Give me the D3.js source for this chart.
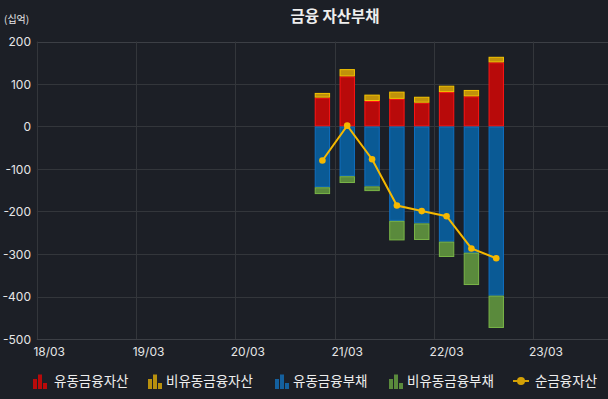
<!DOCTYPE html>
<html>
<head>
<meta charset="utf-8">
<script src="https://cdn.jsdelivr.net/npm/d3@7"></script>
<style>
  body { margin: 0; background: #1c1f26; }
  svg { display: block; font-family: "Noto Sans CJK KR", "Noto Sans", sans-serif; }
</style>
</head>
<body>
<svg id="chart"></svg>
<script>
// quarters on the x axis (category axis, labels every 4th)
const quarters = ['18/03','18/06','18/09','18/12','19/03','19/06','19/09','19/12',
    '20/03','20/06','20/09','20/12','21/03','21/06','21/09','21/12',
    '22/03','22/06','22/09','22/12','23/03','23/06','23/09'];
const dataQuarters = ['20/12','21/03','21/06','21/09','21/12','22/03','22/06','22/09'];
const currentAssets = [68, 118, 60, 65, 56, 81, 71, 151];
const nonCurrentAssets = [11, 17, 15, 17, 14, 15, 15, 13];
const currentLiab = [-143, -117, -141, -222, -228, -271, -297, -398];
const nonCurrentLiab = [-16, -16, -11, -46, -39, -36, -76, -76];
const netAssets = [-80, 2, -77, -186, -199, -211, -287, -310];
const yTicks = [200, 100, 0, -100, -200, -300, -400, -500];
const xLabels = ['18/03','19/03','20/03','21/03','22/03','23/03'];

const width = 608, height = 399;
const margin = {left: 36.8, right: 0, top: 41.5, bottom: 60};

const series = [
    {name: '유동금융자산', values: currentAssets, fill: '#b80a0a', stroke: '#ff1414'},
    {name: '비유동금융자산', values: nonCurrentAssets, fill: '#c0920a', stroke: '#f5c400'},
    {name: '유동금융부채', values: currentLiab, fill: '#0a5a95', stroke: '#0f70c2'},
    {name: '비유동금융부채', values: nonCurrentLiab, fill: '#5a8a3c', stroke: '#7ab648'}
];

const svg = d3.select('#chart').attr('width', width).attr('height', height);

const x = d3.scaleBand().domain(quarters)
    .range([margin.left, width - margin.right]).paddingInner(0).paddingOuter(0);
const y = d3.scaleLinear().domain([-500, 200]).range([339, margin.top]);

// grid
const grid = svg.append('g');
grid.selectAll('line.h').data(yTicks).join('line')
    .attr('x1', margin.left).attr('x2', width)
    .attr('y1', d => Math.round(y(d)) + 0.5).attr('y2', d => Math.round(y(d)) + 0.5)
    .attr('stroke', d => (d === 200 || d === -500) ? '#3c3f45' : '#33363b');
grid.selectAll('line.v').data(xLabels).join('line')
    .attr('x1', d => Math.round(x(d)) + 0.5).attr('x2', d => Math.round(x(d)) + 0.5)
    .attr('y1', y(200)).attr('y2', y(-500))
    .attr('stroke', '#33363b');

// y axis labels
svg.append('g').selectAll('text').data(yTicks).join('text')
    .attr('x', 31).attr('y', d => y(d) + 4.5)
    .attr('text-anchor', 'end').attr('fill', '#e6e6e6')
    .attr('font-size', 12).attr('font-family', 'Inter, sans-serif')
    .text(d => d);

// x axis labels
svg.append('g').selectAll('text').data(xLabels).join('text')
    .attr('x', d => x(d) + x.bandwidth() / 2).attr('y', 356)
    .attr('text-anchor', 'middle').attr('fill', '#e6e6e6')
    .attr('font-size', 12).attr('font-family', 'Inter, sans-serif')
    .text(d => d);

// stacked bars: positives stack up, negatives stack down
const barW = 15.4;
const rows = dataQuarters.map((q, i) => ({q, i}));
let posBase = dataQuarters.map(() => 0), negBase = dataQuarters.map(() => 0);
series.forEach(s => {
    const segs = rows.map(r => {
        const v = s.values[r.i];
        let y0, y1;
        if (v >= 0) { y0 = posBase[r.i]; y1 = y0 + v; posBase[r.i] = y1; }
        else { y0 = negBase[r.i]; y1 = y0 + v; negBase[r.i] = y1; }
        return {q: r.q, y0, y1};
    });
    svg.append('g').selectAll('rect').data(segs).join('rect')
        .attr('x', d => x(d.q) + (x.bandwidth() - barW) / 2 + 0.5)
        .attr('width', barW - 1)
        .attr('y', d => Math.min(y(d.y0), y(d.y1)) + 0.5)
        .attr('height', d => Math.max(0, Math.abs(y(d.y0) - y(d.y1)) - 1))
        .attr('fill', s.fill).attr('stroke', s.stroke).attr('stroke-width', 1);
});

// net line
const line = d3.line().x((d, i) => x(dataQuarters[i]) + x.bandwidth() / 2).y(d => y(d));
svg.append('path').datum(netAssets)
    .attr('d', line).attr('fill', 'none')
    .attr('stroke', '#f5b800').attr('stroke-width', 2);
svg.append('g').selectAll('circle').data(netAssets).join('circle')
    .attr('cx', (d, i) => x(dataQuarters[i]) + x.bandwidth() / 2)
    .attr('cy', d => y(d)).attr('r', 3.3)
    .attr('fill', '#f5b800');

// title and unit
svg.append('text').attr('x', 335).attr('y', 22)
    .attr('text-anchor', 'middle').attr('fill', '#eeeeee')
    .attr('font-size', 15.5).attr('font-weight', 'bold')
    .text('금융 자산부채');
svg.append('text').attr('x', 4).attr('y', 23)
    .attr('fill', '#e6e6e6').attr('font-size', 10)
    .text('(십억)');

// legend
const legendItems = [
    {name: '유동금융자산', color: '#b80a0a', iconX: 33, textX: 54},
    {name: '비유동금융자산', color: '#b8900e', iconX: 148, textX: 166},
    {name: '유동금융부채', color: '#14609e', iconX: 275, textX: 293},
    {name: '비유동금융부채', color: '#5a8a3c', iconX: 389, textX: 407},
    {name: '순금융자산', color: '#d4a106', iconX: 513, textX: 535, isLine: true}
];
const leg = svg.append('g');
legendItems.forEach(it => {
    const g = leg.append('g');
    if (it.isLine) {
        g.append('line').attr('x1', it.iconX).attr('x2', it.iconX + 16)
            .attr('y1', 381).attr('y2', 381).attr('stroke', it.color).attr('stroke-width', 2);
        g.append('circle').attr('cx', it.iconX + 8).attr('cy', 381).attr('r', 4).attr('fill', it.color);
    } else {
        [[0, 10], [5, 14.5], [10, 6]].forEach(([dx, h]) => {
            g.append('rect').attr('x', it.iconX + dx).attr('y', 389 - h)
                .attr('width', 4).attr('height', h).attr('fill', it.color);
        });
    }
    g.append('text').attr('x', it.textX).attr('y', 386)
        .attr('fill', '#eeeeee').attr('font-size', 13.5)
        .text(it.name);
});
</script>
</body>
</html>
